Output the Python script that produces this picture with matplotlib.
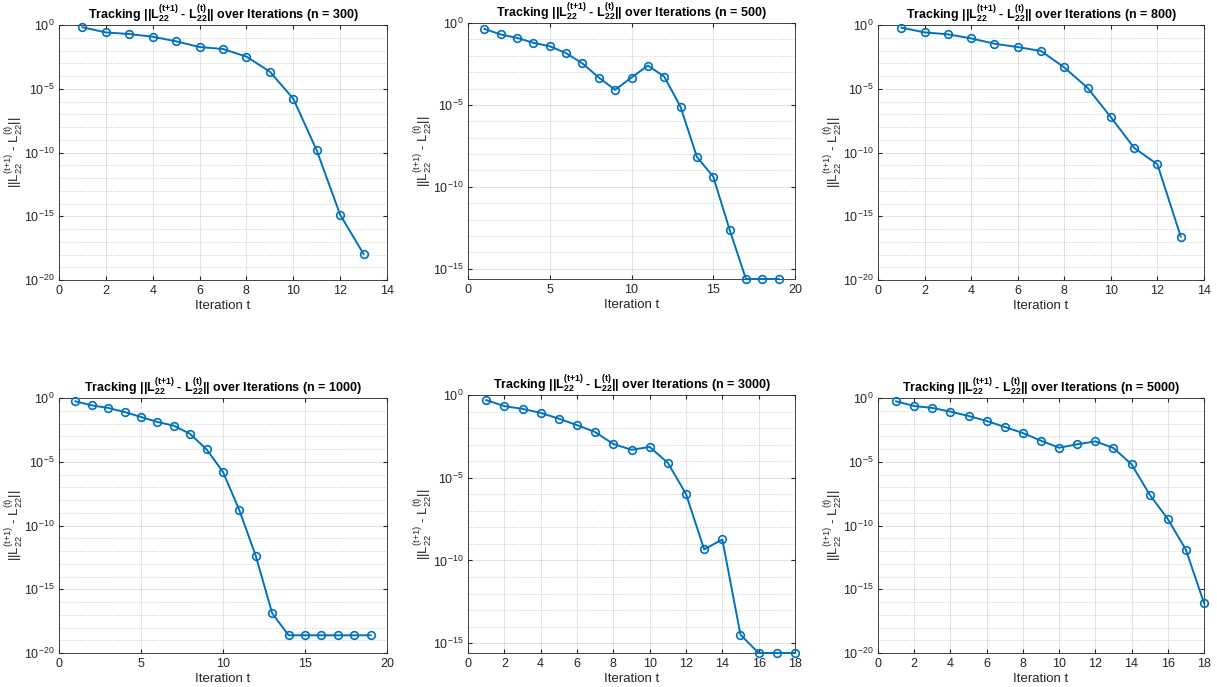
import numpy as np
import matplotlib
matplotlib.use("Agg")
import matplotlib.pyplot as plt
from matplotlib.ticker import FixedLocator, LogFormatterMathtext, NullLocator

plt.rcParams['font.family'] = ['Liberation Sans', 'DejaVu Sans']
plt.rcParams['mathtext.fontset'] = 'custom'
plt.rcParams['mathtext.rm'] = 'Liberation Sans'
plt.rcParams['mathtext.it'] = 'Liberation Sans:italic'
plt.rcParams['mathtext.bf'] = 'Liberation Sans:bold'

# ---- data (log10 of the tracked norm) ----
n_values = [300, 500, 800, 1000, 3000, 5000]
log_n300 = [-0.18, -0.58, -0.71, -0.92, -1.28, -1.73, -1.88, -2.48, -3.66, -5.78, -9.83, -14.88, -17.96]
log_n500 = [-0.36, -0.70, -0.91, -1.21, -1.42, -1.84, -2.47, -3.33, -4.08, -3.33, -2.60, -3.27, -5.12,
            -8.18, -9.38, -12.62, -15.63, -15.63, -15.63]
log_n800 = [-0.21, -0.58, -0.73, -1.05, -1.47, -1.73, -2.04, -3.33, -4.93, -7.23, -9.64, -10.93, -16.59]
log_n1000 = [-0.26, -0.58, -0.78, -1.10, -1.49, -1.88, -2.17, -2.82, -4.03, -5.80, -8.81, -12.39, -16.89,
             -18.61, -18.61, -18.61, -18.61, -18.61, -18.61]
log_n3000 = [-0.31, -0.67, -0.84, -1.08, -1.43, -1.82, -2.24, -2.96, -3.31, -3.14, -4.10, -5.98, -9.33,
             -8.73, -14.49, -15.59, -15.59, -15.59]
log_n5000 = [-0.26, -0.63, -0.78, -1.07, -1.41, -1.80, -2.27, -2.75, -3.35, -3.90, -3.63, -3.40, -3.92,
             -5.20, -7.58, -9.49, -11.90, -16.08]
series = [log_n300, log_n500, log_n800, log_n1000, log_n3000, log_n5000]
x_limits = [14, 20, 14, 20, 18, 18]
x_tick_steps = [2, 5, 2, 5, 2, 2]
y_bottom_tight = [False, True, False, False, True, False]
major_decades = list(range(0, -21, -5))
all_decades = list(range(0, -21, -1))

W, H = 1217, 687
fig = plt.figure(figsize=(W / 100, H / 100), dpi=100)

# pixel boxes (left, right, top, bottom)
boxes = [(59, 387, 25, 280), (468, 795, 23, 279), (878, 1204, 25, 280),
         (59, 387, 398, 653), (468, 795, 395, 653), (878, 1204, 398, 653)]

blue = '#0072BD'
dark = '#262626'

for i, (n, logs) in enumerate(zip(n_values, series)):
    l, r, t, b = boxes[i]
    ax = fig.add_axes([l / W, 1 - b / H, (r - l) / W, (b - t) / H])
    vals = 10.0 ** np.array(logs)
    it = np.arange(1, len(vals) + 1)
    ax.semilogy(it, vals, '-o', color=blue, lw=1.4, markersize=5.5,
                markerfacecolor='none', markeredgewidth=1.2, clip_on=False, zorder=3)
    ax.set_xlim(0, x_limits[i])
    ymin = vals.min() if y_bottom_tight[i] else 1e-20
    ax.set_ylim(ymin, 1.0)
    ax.set_xticks(np.arange(0, x_limits[i] + 0.1, x_tick_steps[i]))
    ax.yaxis.set_major_locator(FixedLocator([10.0 ** k for k in major_decades]))
    ax.yaxis.set_minor_locator(NullLocator())
    ax.yaxis.set_major_formatter(LogFormatterMathtext())
    ax.grid(True, which='major', color=dark, alpha=0.15, lw=0.6, linestyle='-')
    # dotted minor grid at every decade (between the labelled ones)
    for k in all_decades:
        if k in major_decades or 10.0 ** k < ymin:
            continue
        ax.axhline(10.0 ** k, color='#9a9a9a', alpha=0.5, lw=0.7, linestyle=':', zorder=0.5)
    ax.set_axisbelow(True)
    for s in ax.spines.values():
        s.set_color(dark)
        s.set_linewidth(0.6)
    ax.tick_params(which='both', direction='in', colors=dark, labelsize=9,
                   top=True, right=True, length=3)
    ax.set_title(r"Tracking ||$\mathbf{L}_{\mathbf{22}}^{\mathbf{(t{+}1)}}$ - "
                 r"$\mathbf{L}_{\mathbf{22}}^{\mathbf{(t)}}$|| over Iterations (n = %d)" % n,
                 fontsize=9, fontweight='bold', color='black', pad=3)
    ax.set_xlabel('Iteration t', fontsize=9.5, color=dark, labelpad=2.5)
    ax.set_ylabel(r"||$\mathrm{L}_{\mathrm{22}}^{\mathrm{(t{+}1)}}$ - "
                  r"$\mathrm{L}_{\mathrm{22}}^{\mathrm{(t)}}$||", fontsize=9.5, color=dark, labelpad=-1)

fig.savefig('out.png', dpi=100)
